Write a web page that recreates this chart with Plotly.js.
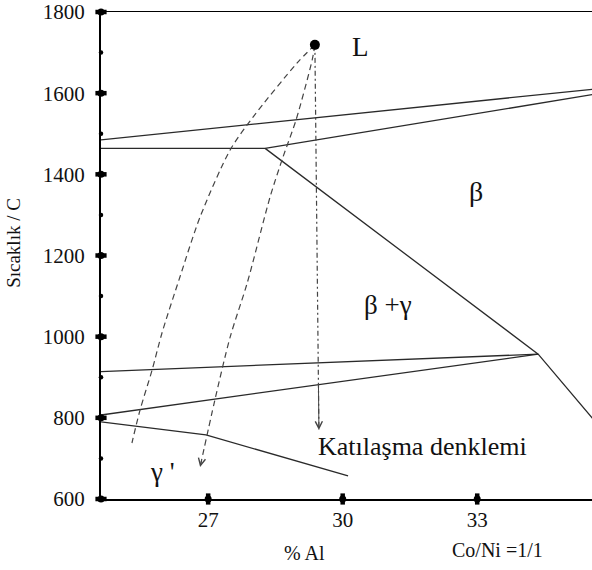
<!DOCTYPE html>
<html>
<head>
<meta charset="utf-8">
<script src="https://cdn.plot.ly/plotly-3.0.1.min.js"></script>
<style>html,body{margin:0;padding:0;background:#fff;}#chart{width:592px;height:570px;}</style>
</head>
<body>
<div id="chart"></div>
<script>
// ---- data ----
const xTicks = [27, 30, 33];
const yMajorTicks = [600, 800, 1000, 1200, 1400, 1600, 1800];
const yMinorTicks = [700, 900, 1100, 1300, 1500, 1700];

// solid phase boundaries (x = % Al, y = temperature)
const liqUpperX = [24.61, 35.6];
const liqUpperY = [1485, 1610];
const liqLowerX = [24.61, 28.27, 35.6];
const liqLowerY = [1464, 1464, 1597];
const solvusX = [28.27, 34.36, 35.6];
const solvusY = [1464, 957, 795];
const eutUpperX = [24.61, 34.36];
const eutUpperY = [914, 957];
const eutLowerX = [24.61, 34.36];
const eutLowerY = [807, 957];
const gammaPrimeX = [24.61, 26.95, 30.12];
const gammaPrimeY = [790, 758, 657];

// liquid point
const liquidX = [29.38];
const liquidY = [1719];

// solidification paths (dashed)
const pathAX = [29.38, 28.98, 28.0, 27.49, 26.82, 26.37, 25.97, 25.75, 25.48, 25.30];
const pathAY = [1719, 1674, 1541, 1460, 1295, 1147, 1009, 918, 819, 738];
const pathBX = [29.38, 29.32, 28.96, 28.67, 28.38, 27.87, 27.49, 27.15, 26.82];
const pathBY = [1719, 1682, 1534, 1443, 1344, 1132, 999, 844, 679];
const pathCX = [29.38, 29.47];
const pathCY = [1719, 770];

// region labels
const labelText = ['L', 'β', 'β +γ', 'γ \'', 'Katılaşma denklemi'];
const labelX = [30.39, 32.97, 31.01, 25.99, 31.79];
const labelY = [1714, 1357, 1078, 667, 729];
const labelSize = [27, 28, 27, 27, 26];

const X_RANGE = [24.61, 35.56];
const Y_RANGE = [600, 1800];

const FONT = '"Liberation Serif", "Times New Roman", serif';
const solid = {color: '#2a2a2a', width: 1.3};
const dashed = {color: '#444', width: 1.2, dash: '6px,4px', shape: 'spline', smoothing: 0.8};

function seg(x, y, line) {
  return {x: x, y: y, mode: 'lines', line: line, hoverinfo: 'skip', showlegend: false};
}

const traces = [
  seg(liqUpperX, liqUpperY, solid),
  seg(liqLowerX, liqLowerY, solid),
  seg(solvusX, solvusY, solid),
  seg(eutUpperX, eutUpperY, solid),
  seg(eutLowerX, eutLowerY, solid),
  seg(gammaPrimeX, gammaPrimeY, solid),
  seg(pathAX, pathAY, dashed),
  seg(pathBX, pathBY, dashed),
  seg(pathCX, pathCY, {color: '#444', width: 1.2, dash: '5px,3px,2px,3px'}),
  {x: liquidX, y: liquidY, mode: 'markers', marker: {color: '#000', size: 10}, hoverinfo: 'skip', showlegend: false},
  // axis tick dots (ellipse-like: circle + short thick bar)
  {x: yMajorTicks.map(() => X_RANGE[0]), y: yMajorTicks, mode: 'markers', cliponaxis: false,
   marker: {color: '#000', size: 7}, hoverinfo: 'skip', showlegend: false},
  {x: yMajorTicks.map(() => X_RANGE[0]), y: yMajorTicks, mode: 'markers', cliponaxis: false,
   marker: {symbol: 'line-ew', size: 8, line: {color: '#000', width: 4.5}}, hoverinfo: 'skip', showlegend: false},
  {x: yMinorTicks.map(() => X_RANGE[0]), y: yMinorTicks, mode: 'markers', cliponaxis: false,
   marker: {color: '#000', size: 4.5}, hoverinfo: 'skip', showlegend: false},
  {x: xTicks, y: xTicks.map(() => Y_RANGE[0]), mode: 'markers', cliponaxis: false,
   marker: {color: '#000', size: 7}, hoverinfo: 'skip', showlegend: false},
  {x: xTicks, y: xTicks.map(() => Y_RANGE[0]), mode: 'markers', cliponaxis: false,
   marker: {symbol: 'line-ns', size: 8, line: {color: '#000', width: 4.5}}, hoverinfo: 'skip', showlegend: false}
];

// arrowheads at the ends of the dashed paths
function arrowAt(xs, ys) {
  const n = xs.length;
  const t = 0.12;
  return {
    x: xs[n - 1], y: ys[n - 1], xref: 'x', yref: 'y',
    ax: xs[n - 1] - t * (xs[n - 1] - xs[n - 2]), ay: ys[n - 1] - t * (ys[n - 1] - ys[n - 2]),
    axref: 'x', ayref: 'y', text: '', showarrow: true,
    arrowhead: 5, arrowsize: 1.4, arrowwidth: 1, arrowcolor: '#444', standoff: 0
  };
}

const annotations = [
  arrowAt(pathAX, pathAY),
  arrowAt(pathBX, pathBY),
  arrowAt(pathCX, pathCY)
];
labelText.forEach((t, i) => {
  annotations.push({x: labelX[i], y: labelY[i], xref: 'x', yref: 'y', text: t, showarrow: false,
    font: {family: FONT, size: labelSize[i], color: '#111'}, xanchor: 'center', yanchor: 'middle'});
});
annotations.push({x: (304 - 101) / 491, y: -0.111, xref: 'paper', yref: 'paper', text: '% Al', showarrow: false,
  font: {family: FONT, size: 20, color: '#111'}, xanchor: 'center', yanchor: 'middle'});
annotations.push({x: (497 - 101) / 491, y: -0.104, xref: 'paper', yref: 'paper', text: 'Co/Ni =1/1', showarrow: false,
  font: {family: FONT, size: 20, color: '#111'}, xanchor: 'center', yanchor: 'middle'});
annotations.push({x: (14 - 101) / 491, y: 0.526, xref: 'paper', yref: 'paper', text: 'Sıcaklık / C', showarrow: false,
  textangle: -90, font: {family: FONT, size: 19, color: '#111'}, xanchor: 'center', yanchor: 'middle'});

const layout = {
  width: 592, height: 570,
  margin: {l: 101, r: 0, t: 12, b: 71, pad: 0},
  paper_bgcolor: '#fff', plot_bgcolor: '#fff',
  showlegend: false,
  xaxis: {
    range: X_RANGE, showgrid: false, zeroline: false,
    showline: true, linecolor: '#000', linewidth: 1.5, mirror: true,
    tickmode: 'array', tickvals: xTicks, ticktext: xTicks.map(String),
    ticks: '', ticklabelstandoff: 1,
    tickfont: {family: FONT, size: 21, color: '#111'}
  },
  yaxis: {
    range: Y_RANGE, showgrid: false, zeroline: false,
    showline: true, linecolor: '#000', linewidth: 2,
    tickmode: 'array', tickvals: yMajorTicks, ticktext: yMajorTicks.map(String),
    ticks: '', ticklabelstandoff: 10,
    tickfont: {family: FONT, size: 21, color: '#111'}
  },
  annotations: annotations
};

Plotly.newPlot('chart', traces, layout, {staticPlot: true, displayModeBar: false});
</script>
</body>
</html>
